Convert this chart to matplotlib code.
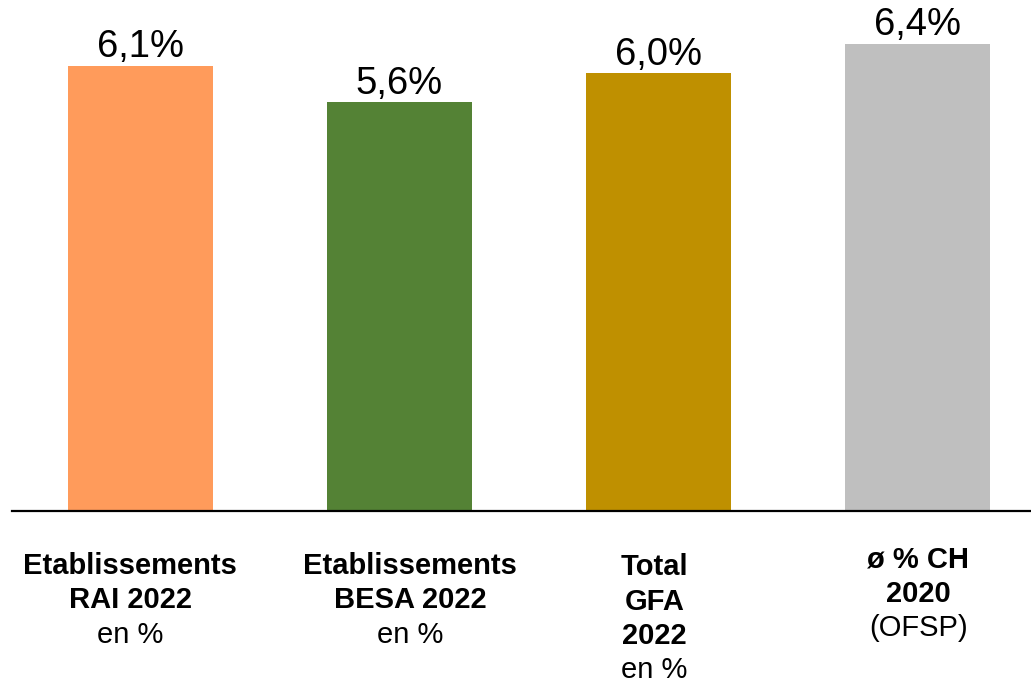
import matplotlib.pyplot as plt
from matplotlib.transforms import blended_transform_factory

plt.rcParams['font.family'] = ['Liberation Sans', 'DejaVu Sans']

# share of staff per group, in %
groups = ['RAI', 'BESA', 'GFA', 'CH']
values = [6.1, 5.6, 6.0, 6.4]
value_labels = ['6,1%', '5,6%', '6,0%', '6,4%']
colors = ['#FF9B5B', '#548235', '#BF9000', '#BFBFBF']

# category labels, one list of (text, bold) lines per bar
cat_labels = [
    [('Etablissements', True), ('RAI 2022', True), ('en %', False)],
    [('Etablissements', True), ('BESA 2022', True), ('en %', False)],
    [('Total', True), ('GFA', True), ('2022', True), ('en %', False)],
    [('ø % CH', True), ('2020', True), ('(OFSP)', False)],
]

W, H = 1031, 683
fig = plt.figure(figsize=(W / 100, H / 100), dpi=100)
ax = fig.add_axes([0.0, (H - 511) / H, 1.0, 511 / H])

x = list(range(len(values)))
ax.bar(x, values, width=0.56, color=colors, zorder=2)
ax.set_xlim(-0.5425, 3.4385)
ax.set_ylim(0, 7.0)

for xi, v, lab in zip(x, values, value_labels):
    ax.annotate(lab, (xi, v), xytext=(0, 6), textcoords='offset points',
                ha='center', va='baseline', fontsize=27.5)

for s in ax.spines.values():
    s.set_visible(False)
ax.set_xticks([])
ax.set_yticks([])

# baseline axis line
ax.plot([12 / W, 1.0], [0, 0], color='black', lw=1.6,
        transform=blended_transform_factory(fig.transFigure, ax.transData),
        clip_on=False, zorder=3)

# category labels below the axis
trans = blended_transform_factory(ax.transData, fig.transFigure)
first_base = [574, 574, 575, 567]
x_shift = [-0.039, 0.042, -0.015, 0.004]
for xi, lines, b0, dx in zip(x, cat_labels, first_base, x_shift):
    for k, (txt, bold) in enumerate(lines):
        y = b0 + k * 34.5
        ax.text(xi + dx, (H - y) / H, txt, transform=trans, ha='center',
                va='baseline', fontsize=21,
                fontweight='bold' if bold else 'normal')

fig.savefig('out.png', dpi=100)
